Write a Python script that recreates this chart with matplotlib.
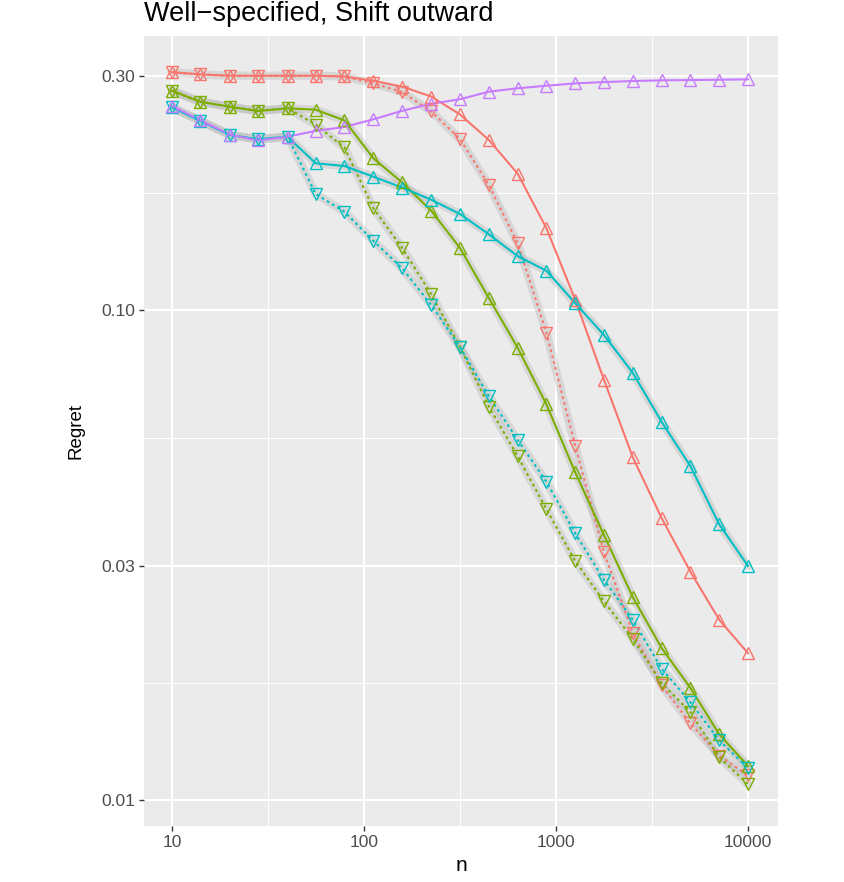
import numpy as np
import matplotlib
matplotlib.use('Agg')
import matplotlib.pyplot as plt

# sample sizes (log spaced, 10 .. 10000)
n = [10, 14, 20, 28, 40, 56, 79, 112, 158, 224, 316, 447, 631, 891,
     1259, 1778, 2512, 3548, 5012, 7079, 10000]

red_up = [0.306, 0.303, 0.301, 0.301, 0.301, 0.301, 0.300, 0.294, 0.286, 0.273, 0.251,
          0.2225, 0.190, 0.147, 0.105, 0.072, 0.050, 0.0376, 0.0292, 0.0233, 0.0199]
red_down = [0.306, 0.303, 0.301, 0.301, 0.301, 0.301, 0.300, 0.2904, 0.2788, 0.2546, 0.2235,
            0.180, 0.137, 0.0899, 0.0528, 0.0320, 0.0219, 0.0171, 0.0143, 0.0123, 0.0112]
green_up = [0.2805, 0.2664, 0.2602, 0.2550, 0.2583, 0.2566, 0.2441, 0.2041, 0.1822, 0.1595, 0.1339,
            0.1058, 0.0838, 0.0642, 0.0466, 0.0347, 0.0259, 0.0204, 0.0169, 0.0136, 0.0117]
green_down = [0.2805, 0.2664, 0.2602, 0.2550, 0.2583, 0.2393, 0.2148, 0.1614, 0.1339, 0.1077, 0.0842,
              0.0635, 0.0503, 0.0392, 0.0307, 0.0254, 0.0213, 0.0173, 0.0151, 0.0122, 0.01075]
cyan_up = [0.2595, 0.2436, 0.2278, 0.2232, 0.2260, 0.1994, 0.1969, 0.1872, 0.1779, 0.1680, 0.1571,
           0.1428, 0.1289, 0.1203, 0.1033, 0.0889, 0.0744, 0.0591, 0.0480, 0.0365, 0.0300]
cyan_down = [0.2595, 0.2436, 0.2278, 0.2232, 0.2260, 0.1726, 0.1588, 0.1384, 0.1217, 0.1024, 0.0840,
             0.0667, 0.0543, 0.0446, 0.0350, 0.0281, 0.0233, 0.0185, 0.0158, 0.0132, 0.0116]
purple_up = [0.2611, 0.2444, 0.2283, 0.2220, 0.2260, 0.2323, 0.2365, 0.2453, 0.2552, 0.2639, 0.2695,
             0.2793, 0.2838, 0.2872, 0.2904, 0.2922, 0.2936, 0.2946, 0.2950, 0.2954, 0.2960]

RED, GREEN, CYAN, PURPLE = '#F8766D', '#7CAE00', '#00BFC4', '#C77CFF'

# (values, colour, dotted?, marker, draw band?)
series = [
    (red_up, RED, False, '^', False),
    (red_down, RED, True, 'v', True),
    (green_up, GREEN, False, '^', True),
    (green_down, GREEN, True, 'v', True),
    (cyan_up, CYAN, False, '^', True),
    (cyan_down, CYAN, True, 'v', True),
    (purple_up, PURPLE, False, '^', False),
]

plt.rcParams['font.family'] = ['Liberation Sans', 'DejaVu Sans']

W, H = 844, 882
fig = plt.figure(figsize=(W / 100, H / 100), dpi=100)
L, R, T, B = 144, 778, 36, 826
ax = fig.add_axes([L / W, 1 - B / H, (R - L) / W, (B - T) / H])
ax.set_facecolor('#EBEBEB')

ax.set_xscale('log')
ax.set_yscale('log')
ax.set_xlim(10 ** 0.8542, 10 ** 4.15625)
ax.set_ylim(10 ** -2.0541, 10 ** -0.4402)

# grid
for v in [10 ** 1.5, 10 ** 2.5, 10 ** 3.5]:
    ax.axvline(v, color='white', lw=0.7, zorder=0)
for v in [10, 100, 1000, 10000]:
    ax.axvline(v, color='white', lw=1.5, zorder=0)
for v in [np.sqrt(0.01 * 0.03), np.sqrt(0.03 * 0.1), np.sqrt(0.1 * 0.3)]:
    ax.axhline(v, color='white', lw=0.7, zorder=0)
for v in [0.01, 0.03, 0.1, 0.3]:
    ax.axhline(v, color='white', lw=1.5, zorder=0)

# confidence bands drawn as soft grey strokes behind the lines
for ys, col, dotted, mk, band in series:
    if band:
        ax.plot(n, ys, color='#A8A8A8', lw=6, alpha=0.3, solid_capstyle='round', zorder=1)

for ys, col, dotted, mk, band in series:
    style = (0, (1.3, 1.6)) if dotted else '-'
    ax.plot(n, ys, color=col, lw=1.5, linestyle=style, dash_capstyle='butt', zorder=2)
    ax.plot(n, ys, linestyle='none', marker=mk, markersize=9, markerfacecolor='none',
            markeredgecolor=col, markeredgewidth=1.0, zorder=3)

ax.set_xticks([10, 100, 1000, 10000])
ax.set_xticklabels(['10', '100', '1000', '10000'])
ax.set_yticks([0.01, 0.03, 0.1, 0.3])
ax.set_yticklabels(['0.01', '0.03', '0.10', '0.30'])
ax.minorticks_off()
ax.tick_params(axis='both', length=3.5, width=1.0, color='#333333',
               labelcolor='#4D4D4D', labelsize=12.5, pad=3)
for s in ax.spines.values():
    s.set_visible(False)

ax.set_xlabel('n', fontsize=15, labelpad=4)
ax.set_ylabel('Regret', fontsize=13.5, labelpad=12)
fig.text(L / W, 1 - 21 / H, 'Well\u2212specified, Shift outward', fontsize=19.5,
         ha='left', va='baseline')

fig.savefig('out.png', dpi=100)
